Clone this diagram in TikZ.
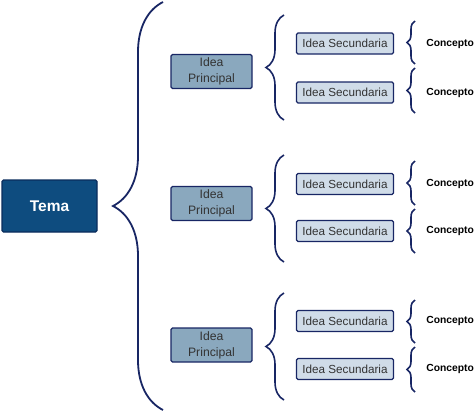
\documentclass[tikz,border=0pt]{standalone}
\usepackage{fontspec}
\setmainfont{Liberation Sans}
\usepackage{tikz}
\usetikzlibrary{positioning, decorations.pathreplacing}
\definecolor{navy}{RGB}{24,38,100}
\definecolor{temafill}{RGB}{14,76,127}
\definecolor{temaline}{RGB}{10,44,92}
\definecolor{ppfill}{RGB}{138,168,190}
\definecolor{ssfill}{RGB}{208,220,232}

\begin{document}
\begin{tikzpicture}[x=1pt, y=-1pt,
    tema/.style={draw=temaline, fill=temafill, line width=1.3pt, rounded corners=1.5pt,
      minimum width=95pt, minimum height=52pt, inner sep=0pt,
      text=white, font=\fontsize{15.5}{18}\selectfont\bfseries},
    principal/.style={draw=navy, fill=ppfill, line width=1.3pt, rounded corners=1.5pt,
      minimum width=81pt, minimum height=34pt, inner sep=0pt, align=center,
      text=black!80, font=\fontsize{12.2}{16}\selectfont},
    secundaria/.style={draw=navy, fill=ssfill, line width=1.3pt, rounded corners=1.5pt,
      minimum width=97pt, minimum height=21pt, inner sep=0pt,
      text=black!80, font=\fontsize{11.7}{13}\selectfont},
    concepto/.style={inner sep=0pt, anchor=west, font=\fontsize{10.3}{12}\selectfont\bfseries},
    llave/.style={draw=navy, line width=1.6pt, decorate, decoration={brace, amplitude=#1}}]
  \useasboundingbox (0,0) rectangle (474,413);
  \node [tema] (t) at (49.5,206) {Tema};
  \node [principal] (p1) at (211.5,71.5) {Idea\\Principal};
  \node [principal] (p2) at (211.5,203.5) {Idea\\Principal};
  \node [principal] (p3) at (211.5,345) {Idea\\Principal};
  \node [secundaria] (s1) at (345,43.5) {Idea Secundaria};
  \node [secundaria] (s2) at (345,92.5) {Idea Secundaria};
  \node [secundaria] (s3) at (345,184) {Idea Secundaria};
  \node [secundaria] (s4) at (345,231) {Idea Secundaria};
  \node [secundaria] (s5) at (345,321) {Idea Secundaria};
  \node [secundaria] (s6) at (345,369) {Idea Secundaria};
  \node [concepto, right=32pt of s1] (c1) {Concepto};
  \node [concepto, right=32pt of s2] (c2) {Concepto};
  \node [concepto, right=32pt of s3] (c3) {Concepto};
  \node [concepto, right=32pt of s4] (c4) {Concepto};
  \node [concepto, right=32pt of s5] (c5) {Concepto};
  \node [concepto, right=32pt of s6] (c6) {Concepto};
  % llaves
  \draw [llave=50pt, line width=1.8pt] (163,410) -- (163,2);
  \draw [llave=18pt] (284,120) -- (284,15);
  \draw [llave=18pt] (284,262) -- (284,155);
  \draw [llave=18pt] (284,400) -- (284,293);
  \draw [llave=8pt] (415,64) -- (415,21);
  \draw [llave=8pt] (415,113) -- (415,68);
  \draw [llave=8pt] (415,205) -- (415,161);
  \draw [llave=8pt] (415,253) -- (415,209);
  \draw [llave=8pt] (415,343) -- (415,300);
  \draw [llave=8pt] (415,392) -- (415,347);
\end{tikzpicture}
\end{document}
